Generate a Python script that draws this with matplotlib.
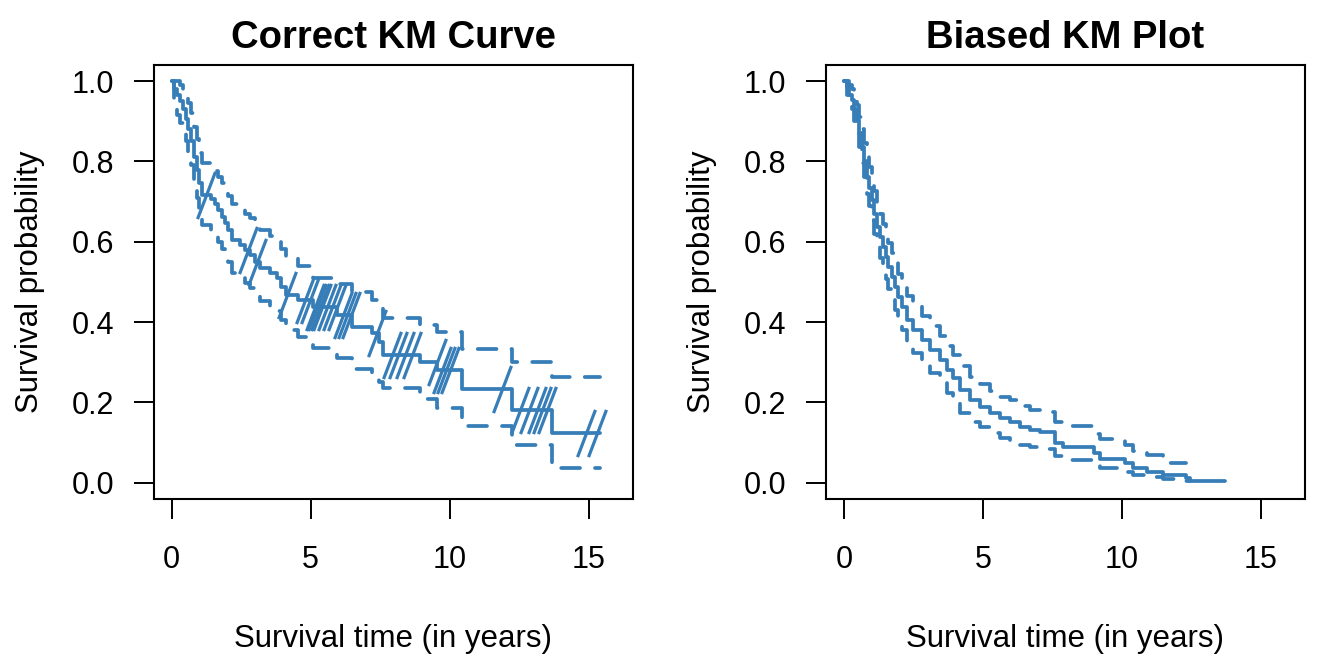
import numpy as np
import matplotlib
matplotlib.use("Agg")
import matplotlib.pyplot as plt
from matplotlib.path import Path

plt.rcParams['font.family'] = ['Liberation Sans', 'DejaVu Sans']

# --- correct KM curve (left) ---
t_ok = [0, 0.1, 0.2, 0.3, 0.4, 0.5, 0.6, 0.7, 0.8, 0.9, 1.0, 1.1, 1.4, 1.55, 1.65,
        1.8, 1.92, 2.04, 2.16, 2.45, 2.62, 2.82, 3.0, 3.18, 3.55, 3.8, 3.95, 4.1,
        4.55, 5.1, 5.95, 6.5, 7.22, 7.45, 7.6, 8.94, 9.55, 10.44, 12.24, 13.68, 15.4]
s_ok = [1.0, 0.98, 0.965, 0.95, 0.93, 0.905, 0.88, 0.85, 0.81, 0.778, 0.745, 0.716,
        0.706, 0.695, 0.679, 0.662, 0.646, 0.629, 0.604, 0.592, 0.579, 0.567, 0.55,
        0.534, 0.522, 0.51, 0.488, 0.467, 0.455, 0.438, 0.417, 0.388, 0.372, 0.35,
        0.318, 0.301, 0.28, 0.232, 0.181, 0.123, 0.123]
up_ok = [1.0, 1.0, 1.0, 0.99, 0.975, 0.96, 0.945, 0.92, 0.885, 0.855, 0.822, 0.795,
         0.785, 0.775, 0.76, 0.745, 0.73, 0.715, 0.695, 0.682, 0.67, 0.658, 0.643,
         0.628, 0.615, 0.603, 0.582, 0.56, 0.54, 0.51, 0.495, 0.475, 0.455, 0.435,
         0.41, 0.392, 0.376, 0.334, 0.30, 0.262, 0.262]
lo_ok = [1.0, 0.94, 0.915, 0.895, 0.875, 0.85, 0.82, 0.79, 0.75, 0.71, 0.672, 0.642,
         0.63, 0.617, 0.6, 0.582, 0.565, 0.549, 0.522, 0.51, 0.498, 0.485, 0.468,
         0.452, 0.44, 0.428, 0.405, 0.38, 0.363, 0.336, 0.31, 0.282, 0.268, 0.25,
         0.235, 0.208, 0.185, 0.141, 0.094, 0.036, 0.036]
cens_ok = [1.25, 2.75, 3.06, 4.14, 4.8, 4.98, 5.16, 5.24, 5.32, 5.4, 5.58, 5.76, 5.94,
           6.18, 6.3, 6.45, 7.38, 7.92, 8.16, 8.4, 8.64, 9.54, 9.72, 9.87, 10.02,
           11.88, 12.54, 12.84, 13.14, 13.32, 13.5, 14.9, 15.3]

# --- biased KM plot (right) ---
t_bad = [0, 0.1, 0.2, 0.28, 0.37, 0.46, 0.55, 0.64, 0.73, 0.82, 0.91, 1.0, 1.09, 1.18,
         1.3, 1.42, 1.5, 1.6, 1.72, 1.84, 1.96, 2.08, 2.26, 2.5, 2.8, 3.1, 3.46, 3.7,
         3.94, 4.18, 4.54, 4.9, 5.26, 5.62, 5.98, 6.34, 6.7, 7.05, 7.6, 7.9, 9.0, 9.2,
         10.1, 10.4, 10.9, 11.5, 12.3, 12.45, 13.73]
s_bad = [1.0, 0.985, 0.965, 0.953, 0.93, 0.903, 0.87, 0.836, 0.80, 0.762, 0.733, 0.704,
         0.67, 0.637, 0.612, 0.587, 0.562, 0.538, 0.513, 0.488, 0.463, 0.438, 0.405,
         0.38, 0.355, 0.33, 0.305, 0.28, 0.26, 0.231, 0.206, 0.189, 0.173, 0.16, 0.152,
         0.139, 0.131, 0.127, 0.098, 0.089, 0.073, 0.06, 0.048, 0.036, 0.027, 0.019,
         0.012, 0.004, 0.004]
up_bad = [1.0, 1.0, 0.99, 0.98, 0.965, 0.94, 0.91, 0.88, 0.845, 0.81, 0.785, 0.755,
          0.725, 0.695, 0.67, 0.645, 0.62, 0.597, 0.572, 0.547, 0.52, 0.495, 0.465,
          0.44, 0.415, 0.39, 0.365, 0.34, 0.318, 0.29, 0.262, 0.245, 0.228, 0.214,
          0.205, 0.19, 0.181, 0.176, 0.152, 0.14, 0.12, 0.108, 0.094, 0.08, 0.068, 0.05,
          np.nan, np.nan, np.nan]
lo_bad = [1.0, 0.965, 0.945, 0.93, 0.9, 0.87, 0.835, 0.797, 0.76, 0.72, 0.69, 0.655,
          0.62, 0.588, 0.56, 0.532, 0.508, 0.482, 0.456, 0.43, 0.405, 0.38, 0.35, 0.322,
          0.297, 0.272, 0.25, 0.222, 0.198, 0.174, 0.15, 0.138, 0.123, 0.112, 0.103,
          0.094, 0.088, 0.084, 0.066, 0.057, 0.046, 0.037, 0.027, 0.02, 0.013, 0.009,
          0.005, np.nan, np.nan]

blue = "#377EB8"
# censoring mark: tall slanted stroke like R's "/"
slash = Path([(-0.38, -1.0), (0.38, 1.0)], [Path.MOVETO, Path.LINETO])


def km_panel(ax, t, s, up, lo, title, cens=None):
    ax.step(t, s, where="post", color=blue, lw=2.7, solid_capstyle="round")
    for band in (up, lo):
        ax.step(t, band, where="post", color=blue, lw=2.7,
                dashes=(5.0, 4.0), dash_capstyle="round")
    if cens is not None:
        idx = np.searchsorted(t, cens, side="right") - 1
        ax.plot(cens, np.asarray(s)[idx], ls="none", marker=slash, ms=34,
                mew=2.3, color=blue)
    ax.set_xlim(-0.655, 16.6)
    ax.set_ylim(-0.04, 1.04)
    ax.set_xticks([0, 5, 10, 15])
    ax.set_yticks([0.0, 0.2, 0.4, 0.6, 0.8, 1.0])
    ax.set_yticklabels(["0.0", "0.2", "0.4", "0.6", "0.8", "1.0"])
    ax.tick_params(direction="out", length=14.4, width=1.4, labelsize=22)
    ax.tick_params(axis="x", pad=19)
    ax.tick_params(axis="y", pad=14)
    for sp in ax.spines.values():
        sp.set_linewidth(1.5)
    ax.set_title(title, fontsize=27.5, fontweight="bold", pad=12)
    ax.set_xlabel("Survival time (in years)", fontsize=22.5, labelpad=35)
    ax.set_ylabel("Survival probability", fontsize=22.5, labelpad=19)


fig = plt.figure(figsize=(13.44, 6.72), dpi=100)
ax1 = fig.add_axes([153.5 / 1344, (672 - 498.7) / 672, 479.5 / 1344, 433.7 / 672])
ax2 = fig.add_axes([825.7 / 1344, (672 - 498.7) / 672, 479.5 / 1344, 433.7 / 672])

km_panel(ax1, t_ok, s_ok, up_ok, lo_ok, "Correct KM Curve", cens_ok)
km_panel(ax2, t_bad, s_bad, up_bad, lo_bad, "Biased KM Plot")

fig.savefig("out.png", dpi=100)
